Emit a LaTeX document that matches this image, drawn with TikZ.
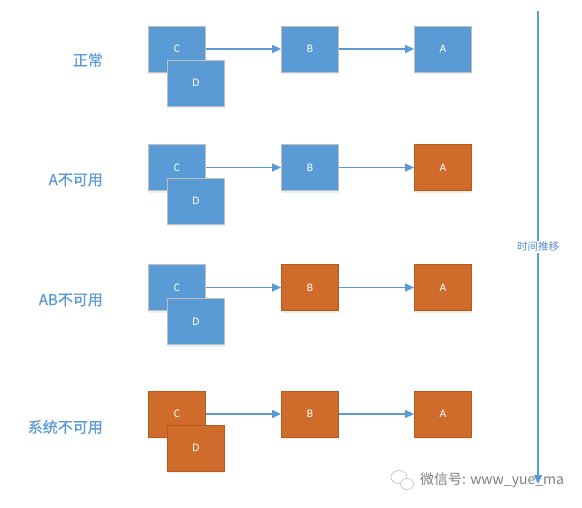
\documentclass[tikz,border=0pt]{standalone}
\usepackage{fontspec}
\setmainfont{Carlito}
\newfontfamily\cjk{Noto Sans CJK SC}
\newfontfamily\cjkb[FakeBold=0.6]{Noto Sans CJK SC}
\usetikzlibrary{arrows.meta,shadows}
\definecolor{boxblue}{HTML}{5B9BD5}
\definecolor{boxorange}{HTML}{CF6C2B}
\definecolor{edgeorange}{HTML}{B55A20}
\definecolor{edgegray}{HTML}{BFBFBF}
\definecolor{labelblue}{HTML}{5B9BD5}
\definecolor{timeblue}{HTML}{5A8ECC}
\definecolor{wmgray}{HTML}{808080}
\tikzset{
  box/.style={minimum width=57pt,minimum height=46pt,inner sep=0pt,line width=0.8pt,
    text=white,font=\fontsize{11.5}{13}\selectfont},
  okbox/.style={box,fill=boxblue,draw=edgegray,
    drop shadow={fill=boxblue!45,opacity=0.35,shadow xshift=0pt,shadow yshift=-2pt}},
  badbox/.style={box,fill=boxorange,draw=edgeorange,
    drop shadow={fill=boxorange!45,opacity=0.3,shadow xshift=0pt,shadow yshift=-2pt}},
  flow/.style={draw=boxblue,line width=1.3pt,-{Triangle[length=9pt,width=8pt]}},
  rowlabel/.style={anchor=east,text=labelblue,inner sep=0pt,font=\cjkb\fontsize{15}{17}\selectfont}
}
\begin{document}
\begin{tikzpicture}[x=1pt,y=-1pt]
\useasboundingbox (0,0) rectangle (582,507);
\fill[white] (0,0) rectangle (582,507);
% row 1
\node[okbox] (c1) at (177,49) {C};
\node[okbox] (d1) at (196,83) {D};
\node[okbox] (b1) at (310,49) {B};
\node[okbox] (a1) at (443,49) {A};
\node[rowlabel] (l1) at (103,60) {正常};
% row 2
\node[okbox] (c2) at (177,167.5) {C};
\node[okbox] (d2) at (196,201) {D};
\node[okbox] (b2) at (310,167.5) {B};
\node[badbox] (a2) at (443,167.5) {A};
\node[rowlabel] (l2) at (103,180) {A不可用};
% row 3
\node[okbox] (c3) at (177,287.5) {C};
\node[okbox] (d3) at (196,321.5) {D};
\node[badbox] (b3) at (310,287.5) {B};
\node[badbox] (a3) at (443,287.5) {A};
\node[rowlabel] (l3) at (103,300) {AB不可用};
% row 4
\node[badbox] (c4) at (177,414) {C};
\node[badbox] (d4) at (196,448) {D};
\node[badbox] (b4) at (310,414) {B};
\node[badbox] (a4) at (443,414) {A};
\node[rowlabel] (l4) at (103,427) {系统不可用};
% connectors
\foreach \r in {1,2,3,4}{
  \draw[flow] (c\r.east) -- (b\r.west);
  \draw[flow] (b\r.east) -- (a\r.west);
}
% time axis
\coordinate (t0) at (538,11);
\coordinate (t1) at (538,484);
\draw[flow] (t0) -- (t1);
\node[fill=white,inner sep=1.5pt,text=timeblue,font=\cjk\fontsize{10.5}{12}\selectfont] (tl) at (538,247) {时间推移};
% watermark
\draw[draw=wmgray!50,line width=0.6pt,fill=white] (399,477) ellipse [x radius=8pt,y radius=6.5pt];
\draw[draw=wmgray!50,line width=0.6pt,fill=white] (407,484) ellipse [x radius=6.5pt,y radius=5.5pt];
\node[anchor=west,inner sep=0pt,text=wmgray,font=\cjk\fontsize{14}{16}\selectfont] (wm) at (420,480) {微信号: www\_yue\_ma};
\end{tikzpicture}
\end{document}
